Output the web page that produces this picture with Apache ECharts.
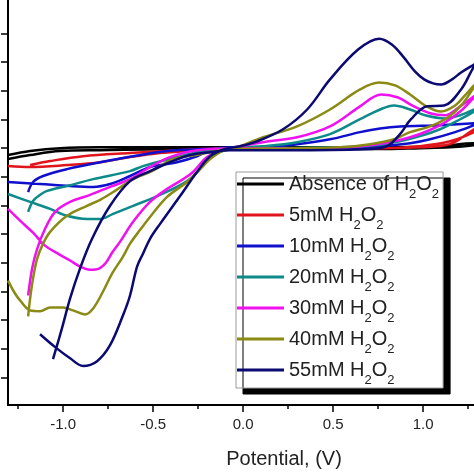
<!DOCTYPE html>
<html>
<head>
<meta charset="utf-8">
<script src="https://cdn.jsdelivr.net/npm/echarts@6/dist/echarts.min.js"></script>
<style>
html,body{margin:0;padding:0;background:#fff;}
#c{width:474px;height:474px;}
</style>
</head>
<body>
<div id="c"></div>
<script>
// Potential (V) tick labels and current ticks (arbitrary units, one division per tick)
const potentialTicks = [-1.0, -0.5, 0.0, 0.5, 1.0];
const potentialMinorTicks = [-1.25, -0.75, -0.25, 0.25, 0.75, 1.25];
const currentTicks = [-8, -7, -6, -5, -4, -3, -2, -1, 0, 1, 2, 3, 4];
const seriesNames = ['Absence of H2O2', '5mM H2O2', '10mM H2O2', '20mM H2O2', '30mM H2O2', '40mM H2O2', '55mM H2O2'];

// Each voltammogram: [potential V, current], forward scan then reverse scan
const absence = [[-1.306,-0.38],[-1.183,-0.24],[-1.017,-0.10],[-0.794,-0.07],[-0.239,-0.03],[0.317,-0.03],[0.761,-0.03],[0.983,0],[1.15,0.03],[1.283,0.10],[1.3,0.14],[1.283,0.17],[1.094,0.07],[0.761,0.03],[0.317,0.03],[-0.239,0.03],[-0.794,0.03],[-1.017,0],[-1.183,-0.10],[-1.306,-0.24]];
const mM5 = [[-1.306,-0.625],[-1.183,-0.66],[-0.978,-0.59],[-0.794,-0.49],[-0.628,-0.31],[-0.461,-0.17],[-0.239,-0.07],[-0.072,-0.03],[0.317,-0.03],[0.761,0],[0.983,0.03],[1.15,0.14],[1.283,0.66],[1.3,0.7],[1.283,0.56],[1.15,0.24],[0.983,0.07],[0.761,0],[0.317,0],[-0.072,0],[-0.239,-0.03],[-0.628,-0.17],[-0.889,-0.28],[-1.072,-0.45],[-1.183,-0.59]];
const mM10 = [[-1.306,-1.18],[-1.128,-1.25],[-0.961,-1.32],[-0.833,-1.35],[-0.739,-1.25],[-0.628,-0.97],[-0.517,-0.66],[-0.367,-0.49],[-0.256,-0.28],[-0.183,-0.07],[-0.072,0.03],[0.111,0.03],[0.3,0.14],[0.483,0.31],[0.65,0.56],[0.761,0.69],[0.872,0.76],[1.094,0.80],[1.283,0.87],[1.3,0.9],[1.283,0.80],[1.178,0.56],[1.039,0.31],[0.928,0.17],[0.761,0.07],[0.539,0],[-0.017,0],[-0.239,-0.03],[-0.422,-0.10],[-0.611,-0.28],[-0.794,-0.49],[-0.978,-0.73],[-1.111,-0.97],[-1.167,-1.18],[-1.194,-1.53]];
const mM20 = [[-1.306,-1.60],[-1.183,-1.875],[-1.072,-2.12],[-0.978,-2.36],[-0.867,-2.47],[-0.794,-2.47],[-0.722,-2.29],[-0.611,-2.01],[-0.461,-1.63],[-0.311,-1.15],[-0.239,-0.73],[-0.172,-0.28],[-0.1,-0.07],[-0.017,0.03],[0.111,0.07],[0.3,0.21],[0.483,0.49],[0.65,1.01],[0.761,1.35],[0.839,1.49],[0.928,1.35],[1.011,1.15],[1.122,1.04],[1.206,1.15],[1.283,1.35],[1.3,1.42],[1.283,1.28],[1.206,1.01],[1.094,0.66],[0.983,0.42],[0.872,0.24],[0.733,0.10],[0.539,0.03],[0.094,0],[-0.156,-0.03],[-0.256,-0.14],[-0.367,-0.31],[-0.556,-0.625],[-0.628,-0.80],[-0.833,-1.08],[-0.978,-1.32],[-1.089,-1.49],[-1.128,-1.63],[-1.167,-1.84],[-1.194,-2.22]];
const mM30 = [[-1.306,-2.12],[-1.239,-2.53],[-1.167,-2.95],[-1.1,-3.40],[-1.017,-3.72],[-0.961,-3.92],[-0.906,-4.13],[-0.85,-4.24],[-0.8,-4.20],[-0.761,-3.99],[-0.728,-3.65],[-0.683,-3.26],[-0.611,-2.57],[-0.517,-1.875],[-0.422,-1.42],[-0.333,-1.08],[-0.278,-0.83],[-0.2,-0.31],[-0.117,-0.07],[0.111,0.21],[0.3,0.38],[0.483,0.76],[0.65,1.46],[0.767,1.875],[0.861,1.77],[0.939,1.49],[1.039,1.22],[1.122,1.15],[1.206,1.46],[1.283,1.81],[1.3,1.88],[1.283,1.77],[1.206,1.28],[1.122,0.90],[1.022,0.59],[0.928,0.38],[0.817,0.21],[0.65,0.07],[0.428,0],[-0.017,0],[-0.256,-0.07],[-0.406,-0.31],[-0.517,-0.66],[-0.628,-1.08],[-0.739,-1.35],[-0.85,-1.63],[-0.961,-1.875],[-1.044,-2.22],[-1.1,-2.81],[-1.144,-3.51],[-1.172,-4.20],[-1.194,-5.14]];
const mM40 = [[-1.306,-4.62],[-1.267,-5.07],[-1.239,-5.31],[-1.183,-5.66],[-1.128,-5.69],[-1.072,-5.56],[-1.0,-5.56],[-0.944,-5.66],[-0.878,-5.80],[-0.833,-5.59],[-0.778,-5.0],[-0.728,-4.375],[-0.667,-3.78],[-0.628,-3.33],[-0.572,-2.85],[-0.517,-2.40],[-0.422,-1.70],[-0.311,-1.18],[-0.239,-0.73],[-0.183,-0.38],[-0.117,-0.10],[-0.044,0],[0.111,0.38],[0.3,0.76],[0.483,1.35],[0.65,2.05],[0.756,2.29],[0.844,2.19],[0.928,1.875],[1.011,1.49],[1.1,1.28],[1.178,1.49],[1.233,1.84],[1.283,2.19],[1.3,2.26],[1.283,2.12],[1.217,1.53],[1.139,1.08],[1.039,0.76],[0.928,0.56],[0.839,0.31],[0.706,0.14],[0.539,0.03],[0.317,0],[-0.072,-0.03],[-0.128,-0.07],[-0.239,-0.21],[-0.389,-0.38],[-0.506,-0.80],[-0.611,-1.08],[-0.711,-1.49],[-0.794,-1.80],[-0.867,-2.01],[-0.978,-2.36],[-1.072,-2.92],[-1.111,-3.33],[-1.144,-3.85],[-1.167,-4.55],[-1.183,-5.24],[-1.194,-5.87]];
const mM55 = [[-1.128,-6.49],[-1.044,-6.94],[-0.961,-7.33],[-0.889,-7.60],[-0.811,-7.43],[-0.739,-6.875],[-0.667,-5.83],[-0.628,-5.14],[-0.589,-4.13],[-0.556,-3.68],[-0.517,-3.16],[-0.461,-2.64],[-0.35,-1.67],[-0.256,-0.83],[-0.183,-0.28],[-0.1,-0.03],[-0.017,0.07],[0.078,0.24],[0.222,0.66],[0.356,1.35],[0.483,2.40],[0.639,3.44],[0.756,3.82],[0.828,3.61],[0.894,3.16],[0.956,2.67],[1.006,2.40],[1.056,2.26],[1.1,2.22],[1.161,2.40],[1.211,2.64],[1.283,2.92],[1.3,2.98],[1.283,2.85],[1.267,2.67],[1.211,2.05],[1.117,1.49],[1.022,1.46],[0.933,1.01],[0.872,0.49],[0.8,0.07],[0.706,-0.03],[0.317,-0.07],[-0.072,-0.07],[-0.183,-0.14],[-0.294,-0.24],[-0.406,-0.49],[-0.517,-0.80],[-0.628,-1.15],[-0.739,-2.01],[-0.839,-3.16],[-0.906,-4.20],[-0.961,-5.24],[-1.006,-6.28],[-1.056,-7.36]];

const allData = [absence, mM5, mM10, mM20, mM30, mM40, mM55];
const colors = ['#000000', '#e0141c', '#1010cc', '#0e8a8a', '#f010f0', '#8a8a14', '#0a0a72'];

const chart = echarts.init(document.getElementById('c'), null, {renderer: 'canvas'});
const font = 'Arial, "Liberation Sans", sans-serif';

chart.setOption({
  animation: false,
  backgroundColor: '#ffffff',
  grid: {left: 8, right: 0, top: 0, bottom: 67, containLabel: false},
  xAxis: [{
    type: 'value', min: -1.306, max: 1.283,
    splitLine: {show: false},
    axisLine: {show: true, onZero: false, lineStyle: {color: '#000', width: 2}},
    axisTick: {show: true, inside: false, length: 7, customValues: potentialTicks, lineStyle: {color: '#000', width: 1.5}},
    axisLabel: {show: true, customValues: potentialTicks, margin: 12, fontSize: 15, color: '#222', fontFamily: font,
      formatter: v => v.toFixed(1)},
    name: 'Potential, (V)', nameLocation: 'middle', nameGap: 44,
    nameTextStyle: {fontSize: 20, color: '#222', fontFamily: font, padding: [0, 0, 0, 86]}
  }, {
    type: 'value', min: -1.306, max: 1.283, position: 'bottom',
    splitLine: {show: false},
    axisLine: {show: false, onZero: false},
    axisTick: {show: true, inside: false, length: 4, customValues: potentialMinorTicks, lineStyle: {color: '#000', width: 1.5}},
    axisLabel: {show: false}
  }],
  yAxis: {
    type: 'value', min: -8.96, max: 5.17,
    splitLine: {show: false},
    axisLine: {show: true, onZero: false, lineStyle: {color: '#000', width: 2}},
    axisTick: {show: true, inside: false, length: 7, customValues: currentTicks, lineStyle: {color: '#000', width: 1.5}},
    axisLabel: {show: false}
  },
  legend: {
    orient: 'vertical', left: 236, top: 172,
    icon: 'rect', itemWidth: 47, itemHeight: 3, itemGap: -3,
    padding: [-5, 4, 1, 1],
    backgroundColor: '#ffffff', borderColor: '#9a9a9a', borderWidth: 1,
    shadowColor: '#000000', shadowBlur: 0, shadowOffsetX: 7, shadowOffsetY: 6,
    selectedMode: false,
    data: seriesNames,
    formatter: function (name) {
      const prefix = name.replace('H2O2', '');
      return '{a|' + prefix + 'H}{s|2}{a|O}{s|2}';
    },
    textStyle: {
      fontFamily: font, color: '#222',
      rich: {
        a: {fontSize: 20, lineHeight: 24, fontFamily: font, color: '#222'},
        s: {fontSize: 13, lineHeight: 13, fontFamily: font, color: '#222', padding: [21, 0, 0, 0]}
      }
    }
  },
  series: allData.map((d, i) => ({
    name: seriesNames[i],
    type: 'line',
    data: d,
    xAxisIndex: 0,
    showSymbol: false,
    symbol: 'none',
    smooth: 0.35,
    clip: true,
    color: colors[i],
    lineStyle: {color: colors[i], width: 2.5},
    z: 2 + i
  }))
});
</script>
</body>
</html>
